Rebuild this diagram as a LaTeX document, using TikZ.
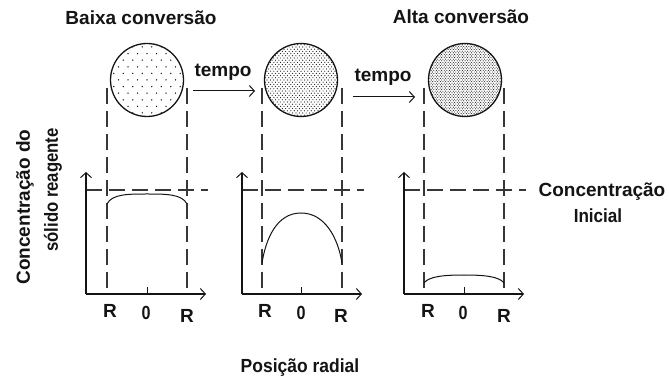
\documentclass[tikz,border=0pt]{standalone}
\usepackage{fontspec}
\usepackage{graphicx}
\setmainfont{Liberation Sans}
\usetikzlibrary{arrows.meta}
\definecolor{ink}{HTML}{141414}
\begin{document}
\begin{tikzpicture}[x=1pt,y=-1pt,
  lbl/.style={inner sep=0pt, font=\fontsize{19}{22}\selectfont\bfseries, text=ink},
  axisline/.style={line width=1.1pt, draw=ink, -{Straight Barb[length=5pt,width=11pt,line width=1pt]}},
  guide/.style={line width=1.1pt, draw=ink!85, dash pattern=on 16pt off 7pt},
  curveline/.style={line width=1pt, draw=ink},
  tickline/.style={line width=1pt, draw=ink},
  timearrow/.style={line width=1pt, draw=ink, -{Straight Barb[length=5pt,width=11pt,line width=1pt]}},
  ball/.style={circle, draw=ink, line width=1.3pt, minimum size=73pt, inner sep=0pt}]
\useasboundingbox (0,0) rectangle (669,379);

% ---- particles ----
\node[ball, path picture={
  \fill[ink] \foreach \j in {0,...,12} { \foreach \i in {0,...,10} {
    ([shift={({(\i-5+0.5*mod(\j,2))*9.5pt},{(\j-6)*6.6pt})}]path picture bounding box.center) circle (0.75pt) } };
}] (c1) at (147,80) {};
\node[ball, path picture={
  \fill[ink] \foreach \j in {0,...,34} { \foreach \i in {0,...,23} {
    ([shift={({(\i-11.5+0.5*mod(\j,2))*3.4pt},{(\j-17)*2.2pt})}]path picture bounding box.center) circle (0.6pt) } };
}] (c2) at (301,80) {};
\node[ball, path picture={
  \fill[ink] \foreach \j in {0,...,46} { \foreach \i in {0,...,29} {
    ([shift={({(\i-14.5+0.5*mod(\j,2))*2.6pt},{(\j-23)*1.6pt})}]path picture bounding box.center) circle (0.55pt) } };
}] (c3) at (465,80) {};

% ---- titles ----
\node[lbl, anchor=base] (tt1) at (141,25) {Baixa conversão};
\node[lbl, anchor=base] (tt2) at (461,24) {Alta conversão};

% ---- time arrows ----
\coordinate (a1s) at (193,91); \coordinate (a1e) at (255,91);
\coordinate (a2s) at (353,97); \coordinate (a2e) at (415,97);
\draw[timearrow] (a1s) -- (a1e);
\draw[timearrow] (a2s) -- (a2e);
\node[lbl, anchor=base] (tp1) at (223,77) {tempo};
\node[lbl, anchor=base] (tp2) at (383,82) {tempo};

% ---- panels ----
\foreach \p/\xo/\xl/\xm/\xr/\xe/\ra/\rb/\rc in
  {1/86/107/147/187/206/110/146/187, 2/242/262/301/342/362/265/301/341, 3/404/424/464/504/524/428/463/504} {
  \coordinate (o\p) at (\xo,294);
  \coordinate (t\p) at (\xo,172);
  \coordinate (e\p) at (\xe,294);
  \coordinate (hs\p) at (\xo,190);
  \coordinate (he\p) at (\xe+2,190);
  \coordinate (lt\p) at (\xl,88);
  \coordinate (lb\p) at (\xl,294);
  \coordinate (rt\p) at (\xr,88);
  \coordinate (rb\p) at (\xr,294);
  \coordinate (mb\p) at (\xm,294);
  \coordinate (mt\p) at (\xm,287);
  \draw[guide] (lt\p) -- (lb\p);
  \draw[guide] (rt\p) -- (rb\p);
  \draw[guide] (hs\p) -- (he\p);
  \draw[axisline] (o\p) -- (t\p);
  \draw[axisline] (o\p) -- (e\p);
  \draw[tickline] (mb\p) -- (mt\p);
  \node[lbl, anchor=base] (ra\p) at (\ra,317) {R};
  \node[lbl, anchor=base] (rz\p) at (\rb,319) {\scalebox{0.85}[1]{0}};
  \node[lbl, anchor=base] (rc\p) at (\rc,322) {R};
}

% ---- concentration profiles ----
\draw[curveline] (107,204) .. controls (112,194) and (128,194) .. (147,194)
  .. controls (166,194) and (182,194) .. (187,204);
\draw[curveline] (262,263) .. controls (266,238) and (277,213) .. (301,213)
  .. controls (325,213) and (338,238) .. (342,263);
\draw[curveline] (424,283) .. controls (429,276) and (446,275) .. (464,275)
  .. controls (482,275) and (499,276) .. (504,283);

% ---- axis labels ----
\node[lbl, rotate=90] (yl1) at (25,207) {Concentração do};
\node[lbl, rotate=90, anchor=east] (yl2) at (53,128) {\scalebox{0.88}[1]{sólido reagente}};
\node[lbl, anchor=base] (ci1) at (602,197) {Concentração};
\node[lbl, anchor=base] (ci2) at (598,223) {\scalebox{0.9}[1]{Inicial}};
\node[lbl, anchor=base] (pr) at (300,372) {\scalebox{0.92}[1]{Posição radial}};
\end{tikzpicture}
\end{document}
